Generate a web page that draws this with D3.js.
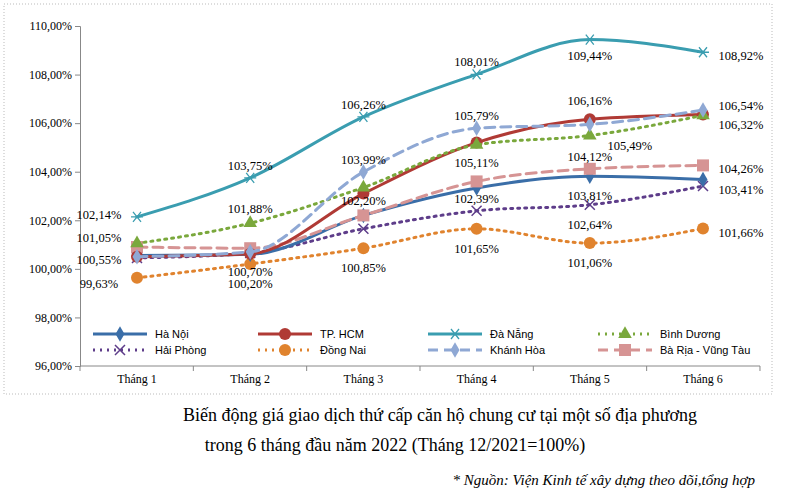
<!DOCTYPE html><html><head><meta charset="utf-8"><script src="https://cdn.jsdelivr.net/npm/d3@7"></script>
<style>body{margin:0;background:#fff}</style></head><body><svg width="800" height="500"></svg>
<script>
const months=["Tháng 1","Tháng 2","Tháng 3","Tháng 4","Tháng 5","Tháng 6"];
const yTicks=[96,98,100,102,104,106,108,110];
const haNoi=[100.55,100.6,102.2,103.33,103.81,103.68];
const hcm=[100.5,100.62,103.1,105.2,106.16,106.36];
const daNang=[102.14,103.75,106.26,108.01,109.44,108.92];
const binhDuong=[101.05,101.88,103.35,105.11,105.49,106.32];
const haiPhong=[100.45,100.65,101.65,102.39,102.64,103.41];
const dongNai=[99.63,100.20,100.85,101.65,101.06,101.66];
const khanhHoa=[100.5,100.7,103.99,105.79,105.95,106.54];
const baRia=[100.9,100.85,102.2,103.6,104.12,104.26];
const seriesNames=["Hà Nội","TP. HCM","Đà Nẵng","Bình Dương","Hải Phòng","Đồng Nai","Khánh Hòa","Bà Rịa - Vũng Tàu"];
const seriesData=[haNoi,hcm,daNang,binhDuong,haiPhong,dongNai,khanhHoa,baRia];
// labels: [seriesIndex, pointIndex, dx, dy]
const labels=[[2,0,-38,-2],[2,1,0,-12],[2,2,0,-12],[2,3,0,-12],[2,4,0,16],[2,5,38,4],
[3,0,-38,-5],[3,1,0,-14],[0,2,0,-14],[3,3,0,18],[3,4,40,10],[3,5,38,10],
[0,0,-38,4],[6,1,0,20],[6,2,0,-12],[6,3,0,-12],[6,5,38,-4],
[5,0,-38,6],[5,1,0,20],[5,2,0,20],[5,3,0,20],[5,4,0,20],[5,5,38,4],
[4,3,0,-12],[4,4,0,20],[4,5,38,4],[7,4,0,-12],[7,5,38,4],[0,4,0,20],[1,4,0,-18]];
const colors=["#3a6ea8","#b03a35","#3a9db0","#7aa83c","#5e3d8a","#e0832e","#8fa8d4","#d69494"];
const dashes=[null,null,null,"2,5","2,5","2,5","10,6","10,6"];
const shapes=["diamond","circle","star","triangle","cross","circle","diamond","square"];
const svg=d3.select("svg");
const x=d3.scalePoint().domain(months).range([137,703]);
const y=d3.scaleLinear().domain([96,110]).range([366,26]);
svg.append("rect").attr("x",4).attr("y",4).attr("width",768).attr("height",390).attr("fill","none").attr("stroke","#bbb").attr("stroke-dasharray","1,2");
svg.append("g").attr("transform","translate(80,0)").call(d3.axisLeft(y).tickValues(yTicks).tickSize(5).tickFormat(d=>d3.format(".2f")(d).replace(".",",")+"%"))
 .call(g=>{g.selectAll("text").attr("font-family","Liberation Serif").attr("font-size",12).attr("fill","#000");g.selectAll("line,path").attr("stroke","#888");});
const xa=svg.append("g").attr("transform","translate(0,366)");
xa.append("line").attr("x1",80).attr("x2",760).attr("stroke","#888");
months.forEach((m,i)=>{xa.append("text").attr("x",x(m)).attr("y",17).attr("text-anchor","middle").attr("font-family","Liberation Serif").attr("font-size",12).text(m);});
[0,1,2,3,4,5,6].forEach(i=>{const xx=80+i*113.33;xa.append("line").attr("x1",xx).attr("x2",xx).attr("y2",5).attr("stroke","#888");});
const line=d3.line().x((d,i)=>x(months[i])).y(d=>y(d)).curve(d3.curveMonotoneX);
function marker(g,s,c,cx,cy){
 if(s==="circle")g.append("circle").attr("cx",cx).attr("cy",cy).attr("r",6).attr("fill",c);
 else if(s==="diamond")g.append("path").attr("d",d3.symbol(d3.symbolDiamond,70)()).attr("transform",`translate(${cx},${cy})`).attr("fill",c);
 else if(s==="square")g.append("rect").attr("x",cx-6).attr("y",cy-6).attr("width",12).attr("height",12).attr("fill",c);
 else if(s==="triangle")g.append("path").attr("d",d3.symbol(d3.symbolTriangle,80)()).attr("transform",`translate(${cx},${cy})`).attr("fill",c);
 else if(s==="cross")g.append("path").attr("d",`M${cx-5},${cy-5}L${cx+5},${cy+5}M${cx-5},${cy+5}L${cx+5},${cy-5}`).attr("stroke",c).attr("stroke-width",1.5);
 else if(s==="star")g.append("path").attr("d",`M${cx-6},${cy}L${cx+6},${cy}M${cx-4},${cy-5}L${cx+4},${cy+5}M${cx-4},${cy+5}L${cx+4},${cy-5}`).attr("stroke",c).attr("stroke-width",1.3);
}
const order=[5,4,0,7,1,3,6,2];
order.forEach(k=>{const g=svg.append("g");
 g.append("path").attr("d",line(seriesData[k])).attr("fill","none").attr("stroke",colors[k]).attr("stroke-width",3).attr("stroke-dasharray",dashes[k]).attr("stroke-linecap","round");
 seriesData[k].forEach((v,i)=>marker(g,shapes[k],colors[k],x(months[i]),y(v)));});
labels.forEach(([k,i,dx,dy])=>svg.append("text").attr("x",x(months[i])+dx).attr("y",y(seriesData[k][i])+dy+4).attr("text-anchor","middle").attr("font-family","Liberation Serif").attr("font-size",12.5).text(d3.format(".2f")(seriesData[k][i]).replace(".",",")+"%"));
const lx=[105,270,440,610],ly=[334,350];
seriesNames.forEach((n,k)=>{const cx=lx[k%4],cy=ly[Math.floor(k/4)];const g=svg.append("g");
 g.append("line").attr("x1",cx-12).attr("x2",cx+42).attr("y1",cy).attr("y2",cy).attr("stroke",colors[k]).attr("stroke-width",3).attr("stroke-dasharray",dashes[k]);
 marker(g,shapes[k],colors[k],cx+15,cy);
 g.append("text").attr("x",cx+50).attr("y",cy+4).attr("font-family","Liberation Sans").attr("font-size",11).text(n);});
svg.append("text").attr("x",440).attr("y",421).attr("text-anchor","middle").attr("font-family","Liberation Serif").attr("font-size",18).text("Biến động giá giao dịch thứ cấp căn hộ chung cư tại một số địa phương");
svg.append("text").attr("x",395).attr("y",451).attr("text-anchor","middle").attr("font-family","Liberation Serif").attr("font-size",18).text("trong 6 tháng đầu năm 2022 (Tháng 12/2021=100%)");
svg.append("text").attr("x",755).attr("y",485).attr("text-anchor","end").attr("font-family","Liberation Serif").attr("font-style","italic").attr("font-size",15).text("* Nguồn: Viện Kinh tế xây dựng theo dõi,tổng hợp");
</script></body></html>
